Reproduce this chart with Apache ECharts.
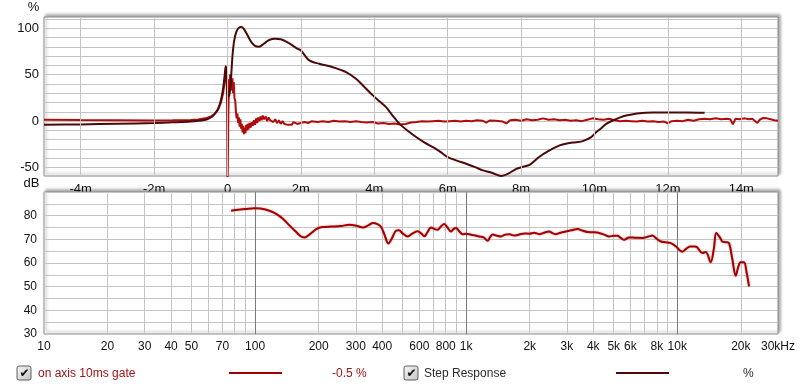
<!DOCTYPE html>
<html><head><meta charset="utf-8">
<script src="https://cdn.jsdelivr.net/npm/echarts@6/dist/echarts.min.js"></script>
<style>html,body{margin:0;padding:0;background:#fff}#c{width:800px;height:387px}</style>
</head><body><div id="c"></div>
<script>
// ---- tick labels / grid positions ----
const timeTicks = [-4, -2, 0, 2, 4, 6, 8, 10, 12, 14];
const pctLabels = [-50, 0, 50, 100];
const pctGrid = [-50, -40, -30, -20, -10, 0, 10, 20, 30, 40, 50, 60, 70, 80, 90, 100, 110];
const freqLabels = [10, 20, 30, 40, 50, 70, 100, 200, 300, 400, 600, 800, 1000, 2000, 3000, 4000, 5000, 6000, 8000, 10000, 20000, 30000];
const freqMinorGrid = [20, 30, 40, 50, 60, 70, 80, 90, 200, 300, 400, 500, 600, 700, 800, 900, 2000, 3000, 4000, 5000, 6000, 7000, 8000, 9000, 20000];
const freqMajorGrid = [100, 1000, 10000];

// ---- impulse response (on axis 10ms gate), time in ms, value in % ----
const impulseTime = [-5, -4, -3, -2, -1.5, -1, -0.8, -0.6, -0.45, -0.35, -0.25, -0.18, -0.12, -0.08, -0.05, -0.03, -0.015, -0.005, 0.0, 0.01, 0.025, 0.04, 0.055, 0.07, 0.085, 0.1, 0.12, 0.135, 0.15, 0.17, 0.19, 0.21, 0.23, 0.25, 0.27, 0.29, 0.31, 0.33, 0.35, 0.37, 0.39, 0.41, 0.43, 0.45, 0.47, 0.49, 0.51, 0.53, 0.55, 0.57, 0.6, 0.63, 0.66, 0.69, 0.72, 0.75, 0.78, 0.81, 0.84, 0.87, 0.9, 0.93, 0.96, 1.0, 1.04, 1.08, 1.12, 1.16, 1.2, 1.25, 1.3, 1.35, 1.4, 1.45, 1.5, 1.55, 1.6, 1.65, 1.7, 1.75, 1.8, 1.9, 2.0, 2.1, 2.2, 2.3, 2.45, 2.6, 2.75, 2.9, 3.05, 3.2, 3.35, 3.5, 3.65, 3.8, 3.95, 4.1, 4.25, 4.4, 4.55, 4.7, 4.85, 5.0, 5.15, 5.3, 5.45, 5.6, 5.75, 5.9, 6.05, 6.2, 6.35, 6.5, 6.65, 6.8, 6.95, 7.05, 7.15, 7.3, 7.5, 7.6, 7.7, 7.85, 8.0, 8.15, 8.3, 8.45, 8.6, 8.75, 8.9, 9.05, 9.2, 9.35, 9.5, 9.65, 9.8, 9.95, 10.1, 10.25, 10.4, 10.55, 10.7, 10.85, 11.0, 11.15, 11.3, 11.45, 11.6, 11.75, 11.9, 12.0, 12.1, 12.25, 12.4, 12.55, 12.7, 12.85, 13.0, 13.15, 13.3, 13.45, 13.6, 13.7, 13.77, 13.84, 13.95, 14.1, 14.2, 14.3, 14.44, 14.5, 14.6, 14.7, 14.8, 14.9, 15.0];
const impulseValue = [1.5, 1.2, 1, 0.8, 0.9, 1.2, 1.8, 3, 5, 8, 13, 20, 30, 42, 52, 55, 30, -20, -75, -75, 10, 45, 38, 50, 35, 48, 33, 46, 30, 42, 25, 22, 10, 3, 8, -2, 4, -6, 2, -8, -3, -12, -5, -14, -7, -13, -4, -10, -3, -9, -2, -7, -1, -5, 1, -4, 3, -2, 4, 0, 5, 1, 6, 2, 5, 0, 4, 1, 3, -1, 2, -2, 1, -3, 0, -3, -1, -4, -2, -4, -1, -3, -2, -1, -2, 0, -1, 0, -1, 0.5, -0.5, 0, -1, 0, -1, -1.5, -1, -2.5, -2, -3, -2.5, -3.5, -3, -1.5, -1, 0, -0.5, 0, 0.5, -0.5, 0, 0.5, -0.3, 0.5, 0, 1, 0.5, -1.5, 0.8, 0.5, -0.5, -2.5, 1, 1.5, 0.5, 2, 1, 1.5, 3, 1.5, 2, 1, 1.5, 0.5, 1, 0, 1.5, 3, 2, 1.5, 2.5, 1, 0, 0.5, 0, -0.5, 0.5, -0.5, 0, -1, -0.5, -2.5, 0, 0.5, 0, 1.5, 0.5, 2, 2.5, 2, 3, 2, 2.5, 2, -3.5, 2.5, 2, 3, 2, 2.5, -2, 1.5, 3.5, 3, 2, 1, 0.5, -0.5];

// ---- step response, time in ms, value in % ----
const stepTime = [-5, -4, -3, -2, -1.5, -1, -0.8, -0.6, -0.5, -0.4, -0.3, -0.22, -0.16, -0.11, -0.075, -0.05, -0.035, -0.015, 0.0, 0.02, 0.05, 0.08, 0.11, 0.14, 0.18, 0.24, 0.3, 0.37, 0.45, 0.55, 0.65, 0.75, 0.85, 0.95, 1.05, 1.15, 1.3, 1.45, 1.6, 1.75, 1.9, 2.0, 2.23, 2.5, 2.87, 3.23, 3.5, 3.75, 3.96, 4.15, 4.32, 4.5, 4.69, 4.9, 5.14, 5.35, 5.6, 5.8, 6.0, 6.25, 6.5, 6.75, 6.96, 7.2, 7.46, 7.65, 7.87, 8.05, 8.23, 8.5, 8.75, 9.05, 9.25, 9.5, 9.68, 9.91, 10.05, 10.2, 10.32, 10.5, 10.7, 10.86, 11.05, 11.23, 11.6, 12.0, 12.5, 13.0];
const stepValue = [-4, -3.5, -2.8, -2, -1.3, -0.5, 0.3, 1.5, 3, 5.5, 10, 17, 26, 38, 50, 59, 56, 40, 30, 26, 28, 38, 55, 72, 86, 96, 100, 101.5, 99, 92, 85, 81, 80, 82, 85, 87.5, 88.5, 88, 85.5, 82, 78, 76, 65.3, 61.7, 58, 52.7, 45.5, 36, 27.7, 21, 15, 6, -2.9, -10, -17, -22.5, -28, -33, -38.7, -42.5, -45.8, -49.5, -53, -55.5, -59, -56.5, -51.3, -49, -47, -38.3, -32, -26.1, -24, -22.6, -21.5, -17.2, -11.8, -7, -2.9, 0.7, 4, 6, 7.5, 8.5, 9.2, 9.4, 9.4, 9.1];

// ---- frequency response (dB) ----
const freqHz = [77, 81, 90, 100, 112, 124, 135, 145, 155, 165, 172, 182, 195, 208, 230, 255, 280, 305, 324, 345, 362, 380, 395, 410, 428, 445, 465, 480, 500, 528, 555, 589, 612, 634, 655, 681, 705, 732, 760, 788, 815, 847, 870, 895, 925, 962, 1000, 1050, 1092, 1153, 1210, 1263, 1300, 1334, 1400, 1461, 1530, 1600, 1690, 1784, 1890, 1990, 2100, 2218, 2340, 2472, 2560, 2640, 2800, 2965, 3150, 3365, 3550, 3756, 4000, 4266, 4500, 4755, 5000, 5207, 5400, 5600, 5911, 6300, 6837, 7300, 7623, 7900, 8356, 8800, 9312, 9800, 10570, 11000, 11500, 12100, 12450, 13140, 13650, 14390, 14900, 15300, 16000, 16340, 17000, 17580, 18200, 18920, 19400, 19960, 20700, 21300, 21880];
const freqDb = [82.1, 82.4, 82.8, 83.1, 82.6, 81.1, 78.8, 76, 73.5, 71.2, 70.8, 72.2, 74.3, 75.2, 75.4, 75.6, 76.2, 75.6, 75.0, 76.0, 76.9, 76.4, 75.3, 72, 68.2, 70.5, 73.6, 73.8, 72.5, 71.2, 72.4, 73.4, 72.5, 71.3, 73, 75, 74.4, 74, 75.5, 76.5, 75, 73.3, 74.3, 74.8, 73.5, 72.2, 72.4, 72, 71.7, 71.2, 70.8, 69.4, 71, 72, 71.5, 71.2, 72, 72.2, 71.6, 72, 72.5, 72.4, 72.8, 72.2, 72.8, 73.3, 72.6, 72.2, 72.8, 73.3, 73.8, 74.4, 73.7, 73.1, 73.0, 72.7, 72.0, 71.2, 71.5, 71.5, 70.6, 69.8, 70.8, 70.7, 70.6, 71.2, 71.6, 70.6, 69.1, 68.8, 68.4, 67.2, 64.8, 66, 67, 67, 66.6, 64.2, 64.6, 60.3, 66, 72.7, 70.5, 69.1, 68.8, 68.4, 62, 54.6, 58, 60.3, 60.3, 56, 50.1];

// ---- build ----
const FONT = '"Liberation Sans", Arial, sans-serif';
const LOG = v => Math.log10(v);
function fmtFreq(f) {
  if (f >= 30000) return '30kHz';
  if (f >= 1000) return (f / 1000) + 'k';
  return String(f);
}
const impulseData = impulseTime.map((t, i) => [t, impulseValue[i]]);
const stepData = stepTime.map((t, i) => [t, stepValue[i]]);
const freqData = freqHz.map((f, i) => [LOG(f), freqDb[i]]);

const gridShadow = {shadowColor: 'rgba(0,0,0,0.35)', shadowBlur: 3, shadowOffsetX: 2, shadowOffsetY: -2};
const chart = echarts.init(document.getElementById('c'), null, {renderer: 'canvas'});

function checkbox(x, y) {
  return [
    {type: 'rect', shape: {x: x, y: y, width: 14, height: 14, r: 2},
     style: {fill: new echarts.graphic.LinearGradient(0, 0, 1, 1, [{offset: 0, color: '#f6f6f6'}, {offset: 1, color: '#c4c4c4'}]), stroke: '#5e5e5e', lineWidth: 1}},
    {type: 'text', x: x + 7.5, y: y + 7.5, style: {text: '\u2714', font: 'bold 12px "DejaVu Sans"', fill: '#111', align: 'center', verticalAlign: 'middle'}}
  ];
}

const option = {
  animation: false,
  backgroundColor: '#ffffff',
  grid: [
    Object.assign({left: 44, top: 17, width: 734, height: 159, show: true, backgroundColor: '#ffffff', borderColor: '#8c8c8c', borderWidth: 1}, gridShadow),
    Object.assign({left: 44, top: 192, width: 734, height: 142, show: true, backgroundColor: '#ffffff', borderColor: '#8c8c8c', borderWidth: 1}, gridShadow)
  ],
  xAxis: [
    {gridIndex: 0, type: 'value', min: -5, max: 15, position: 'bottom',
     axisLine: {show: false}, axisLabel: {show: false}, axisTick: {show: false},
     splitLine: {show: false}},
    {gridIndex: 0, type: 'value', min: -5, max: 15, position: 'bottom', z: -1,
     axisLine: {show: false}, axisTick: {show: false, customValues: timeTicks},
     splitLine: {show: false},
     axisLabel: {show: true, customValues: timeTicks, margin: 7, color: '#111', fontFamily: FONT, fontSize: 13,
       formatter: v => (v === 0 ? '0' : v + 'm')}},
    {gridIndex: 1, type: 'value', min: 1, max: LOG(30000),
     axisLine: {show: false},
     axisTick: {show: false, customValues: freqMinorGrid.map(LOG)},
     splitLine: {show: true, lineStyle: {color: '#c4c4c4', width: 1}},
     axisLabel: {show: true, customValues: freqLabels.map(LOG), margin: 7, color: '#111', fontFamily: FONT, fontSize: 12,
       formatter: v => fmtFreq(Math.round(Math.pow(10, v)))}},
    {gridIndex: 1, type: 'value', min: 1, max: LOG(30000),
     axisLine: {show: false}, axisLabel: {show: false},
     axisTick: {show: false, customValues: freqMajorGrid.map(LOG)},
     splitLine: {show: true, lineStyle: {color: '#7a7a7a', width: 1}}}
  ],
  yAxis: [
    {gridIndex: 0, type: 'value', min: -59, max: 112,
     axisLine: {show: false},
     axisTick: {show: false, customValues: pctGrid},
     splitLine: {show: true, lineStyle: {color: '#c4c4c4', width: 1}},
     axisLabel: {show: true, customValues: pctLabels, margin: 5, color: '#111', fontFamily: FONT, fontSize: 13}},
    {gridIndex: 1, type: 'value', min: 30, max: 90, interval: 5,
     axisLine: {show: false}, axisTick: {show: false},
     splitLine: {show: true, lineStyle: {color: '#c4c4c4', width: 1}},
     axisLabel: {show: true, margin: 7, color: '#111', fontFamily: FONT, fontSize: 12,
       formatter: v => (v % 10 === 0 && v < 90 ? String(v) : '')}}
  ],
  series: [
    {name: 'timeGrid', type: 'line', xAxisIndex: 0, yAxisIndex: 0, data: [], z: 1, silent: true,
     markLine: {silent: true, symbol: ['none', 'none'], animation: false, label: {show: false},
       lineStyle: {color: '#c4c4c4', width: 1, type: 'solid'}, emphasis: {disabled: true},
       data: timeTicks.map(t => ({xAxis: t}))}},
    {name: 'on axis 10ms gate', type: 'line', xAxisIndex: 0, yAxisIndex: 0, data: impulseData,
     showSymbol: false, smooth: false, lineStyle: {color: '#b00c0c', width: 2}, clip: true},
    {name: 'Step Response', type: 'line', xAxisIndex: 0, yAxisIndex: 0, data: stepData,
     showSymbol: false, smooth: 0.3, lineStyle: {color: '#4b0909', width: 2}, clip: true},
    {name: 'FR', type: 'line', xAxisIndex: 2, yAxisIndex: 1, data: freqData,
     showSymbol: false, smooth: 0.35, lineStyle: {color: '#a30000', width: 2, shadowColor: 'rgba(200,60,60,0.5)', shadowBlur: 2}, clip: true}
  ],
  graphic: [
    {type: 'text', x: 33.5, y: 7.5, style: {text: '%', font: '13px ' + FONT, fill: '#111', align: 'center', verticalAlign: 'middle'}},
    {type: 'text', x: 31.5, y: 183.5, style: {text: 'dB', font: '13px ' + FONT, fill: '#111', align: 'center', verticalAlign: 'middle'}},
    ...checkbox(17, 366),
    {type: 'text', x: 38, y: 373.5, style: {text: 'on axis 10ms gate', font: '12px ' + FONT, fill: '#a01414', verticalAlign: 'middle'}},
    {type: 'line', shape: {x1: 229, y1: 373, x2: 282, y2: 373}, style: {stroke: '#a30000', lineWidth: 2}},
    {type: 'text', x: 332, y: 373.5, style: {text: '-0.5 %', font: '12px ' + FONT, fill: '#a01414', verticalAlign: 'middle'}},
    ...checkbox(404, 366),
    {type: 'text', x: 424, y: 373.5, style: {text: 'Step Response', font: '12px ' + FONT, fill: '#2a2a2a', verticalAlign: 'middle'}},
    {type: 'line', shape: {x1: 616, y1: 373, x2: 669, y2: 373}, style: {stroke: '#4b0909', lineWidth: 2}},
    {type: 'text', x: 743, y: 373.5, style: {text: '%', font: '12px ' + FONT, fill: '#2a2a2a', verticalAlign: 'middle'}}
  ]
};
chart.setOption(option);
</script>
</body></html>
